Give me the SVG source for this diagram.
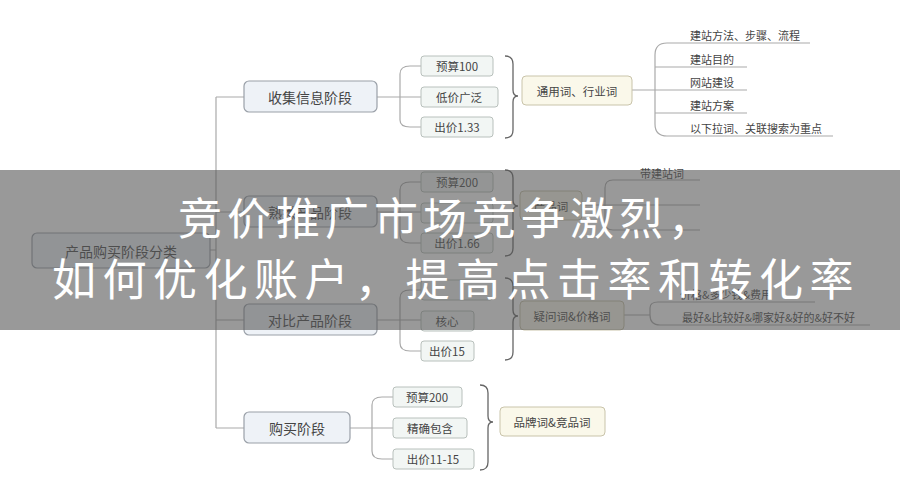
<svg xmlns="http://www.w3.org/2000/svg" width="900" height="500" viewBox="0 0 900 500">
<style>
text{font-family:"Noto Sans CJK SC","Liberation Sans",sans-serif;fill:#444;dominant-baseline:central;text-anchor:middle}
.st rect{fill:#eef2f7;stroke:#9aa0a8;stroke-width:1.2}
.st text{font-size:14px}
.lf rect{fill:#f2f6f4;stroke:#b8c0bc;stroke-width:1}
.lf text{font-size:11.5px}
.kw rect{fill:#faf8ea;stroke:#c9c4aa;stroke-width:1}
.kw text{font-size:11.5px}
.sub text{font-size:11px;text-anchor:start}
.c path{fill:none;stroke:#aaa;stroke-width:1.2}
.t{fill:#fff;font-size:44px;text-anchor:start;letter-spacing:5px;font-family:"Noto Sans CJK SC",sans-serif}
</style>
<rect width="900" height="500" fill="#fff"/>
<g class="c" id="connectors">
<path d="M210 250H216M216 97V428M216 97H244M216 212H244M216 320H244M216 428H244"/>
<path d="M377 97H421M400 97V74Q400 66 410 66H421M400 97V120Q400 127 410 127H421"/>
<path d="M377 212H421M400 212V190Q400 182 410 182H421M400 212V235Q400 243 410 243H421"/>
<path d="M377 320H421M400 320V298Q400 290 410 290H421M400 320V343Q400 351 410 351H421"/>
<path d="M350 428H393M372 428V405Q372 397 382 397H393M372 428V451Q372 459 382 459H393"/>
<path d="M632 90H655M655 90V55Q655 43 667 43H810M655 67H747M655 90H747M655 113H747M655 90V124Q655 136 667 136H833"/>
<path d="M582 205H605M605 205V188Q605 180 613 180H700M605 205H700M605 205V222Q605 230 613 230H700"/>
<path d="M624 315H650M650 315V308Q650 302 658 302H815M650 315Q650 325 660 325H870"/>
</g>
<g fill="none" stroke="#666" stroke-width="1.3">
<path d="M505 56Q513 56 513 64V90Q513 96 518 96Q513 96 513 102V130Q513 138 505 138"/>
<path d="M505 170Q513 170 513 178V200Q513 206 518 206Q513 206 513 212V248Q513 256 505 256"/>
<path d="M505 278Q513 278 513 286V310Q513 316 518 316Q513 316 513 322V352Q513 360 505 360"/>
<path d="M480 385Q488 385 488 393V416Q488 422 493 422Q488 422 488 428V462Q488 470 480 470"/>
</g>
<g id="root" class="st"><rect x="32" y="233" width="178" height="35" rx="5"/><text x="121" y="251">产品购买阶段分类</text></g>
<g id="s1" class="st"><rect x="244" y="81" width="133" height="31" rx="5"/><text x="310" y="97">收集信息阶段</text></g>
<g id="s2" class="st"><rect x="244" y="196" width="133" height="31" rx="5"/><text x="310" y="212">熟悉产品阶段</text></g>
<g id="s3" class="st"><rect x="244" y="304" width="133" height="31" rx="5"/><text x="310" y="320">对比产品阶段</text></g>
<g id="s4" class="st"><rect x="244" y="412" width="106" height="31" rx="5"/><text x="297" y="428">购买阶段</text></g>
<g id="l11" class="lf"><rect x="421" y="56" width="72" height="20" rx="3"/><text x="457" y="66">预算100</text></g>
<g id="l12" class="lf"><rect x="421" y="87" width="77" height="20" rx="3"/><text x="459" y="97">低价广泛</text></g>
<g id="l13" class="lf"><rect x="421" y="117" width="72" height="20" rx="3"/><text x="457" y="127">出价1.33</text></g>
<g id="l21" class="lf"><rect x="421" y="172" width="72" height="20" rx="3"/><text x="457" y="182">预算200</text></g>
<g id="l22" class="lf"><rect x="421" y="203" width="72" height="20" rx="3"/></g>
<g id="l23" class="lf"><rect x="421" y="233" width="72" height="20" rx="3"/><text x="457" y="243">出价1.66</text></g>
<g id="l31" class="lf"><rect x="421" y="280" width="72" height="20" rx="3"/></g>
<g id="l32" class="lf"><rect x="421" y="311" width="53" height="20" rx="3"/><text x="447" y="321">核心</text></g>
<g id="l33" class="lf"><rect x="421" y="341" width="53" height="20" rx="3"/><text x="447" y="351">出价15</text></g>
<g id="l41" class="lf"><rect x="393" y="387" width="69" height="20" rx="3"/><text x="427" y="397">预算200</text></g>
<g id="l42" class="lf"><rect x="393" y="418" width="74" height="20" rx="3"/><text x="430" y="428">精确包含</text></g>
<g id="l43" class="lf"><rect x="393" y="449" width="81" height="20" rx="3"/><text x="433" y="459">出价11-15</text></g>
<g id="k1" class="kw"><rect x="522" y="76" width="110" height="29" rx="4"/><text x="577" y="91">通用词、行业词</text></g>
<g id="k2" class="kw"><rect x="520" y="191" width="62" height="29" rx="4"/><text x="551" y="206">产品词</text></g>
<g id="k3" class="kw"><rect x="520" y="301" width="104" height="29" rx="4"/><text x="572" y="316">疑问词&amp;价格词</text></g>
<g id="k4" class="kw"><rect x="500" y="407" width="105" height="29" rx="4"/><text x="552" y="422">品牌词&amp;竞品词</text></g>
<g id="subs" class="sub">
<text x="690" y="35">建站方法、步骤、流程</text>
<text x="690" y="59">建站目的</text>
<text x="690" y="82">网站建设</text>
<text x="690" y="105">建站方案</text>
<text x="690" y="128">以下拉词、关联搜索为重点</text>
<text x="640" y="173">带建站词</text>
<text x="680" y="294">价格&amp;多少钱&amp;费用</text>
<text x="682" y="317">最好&amp;比较好&amp;哪家好&amp;好的&amp;好不好</text>
</g>
<rect x="0" y="170" width="900" height="160" fill="#555" opacity="0.6"/>
<text class="t" x="178" y="216">竞价推广市场竞争激烈，</text>
<text class="t" x="52" y="277" style="letter-spacing:6.5px">如何优化账户，提高点击率和转化率</text>
</svg>
